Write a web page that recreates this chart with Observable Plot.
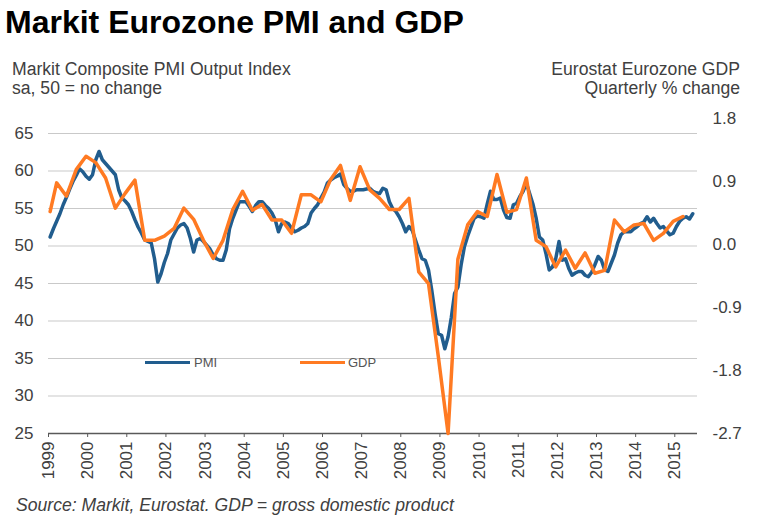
<!DOCTYPE html>
<html>
<head>
<meta charset="utf-8">
<script src="https://cdn.jsdelivr.net/npm/d3@7"></script>
<script src="https://cdn.jsdelivr.net/npm/@observablehq/plot@0.6"></script>
<style>
  html, body { margin: 0; padding: 0; background: #fff; }
  #wrap { position: relative; width: 760px; height: 528px; overflow: hidden;
          font-family: "Liberation Sans", Arial, sans-serif; color: #404040; }
  .title { position: absolute; left: 5px; top: 5.6px; font-size: 32px; line-height: 1;
           font-weight: bold; color: #000; white-space: nowrap; }
  .sub { position: absolute; top: 60.4px; font-size: 17.6px; line-height: 19px; white-space: nowrap; }
  .sub.left { left: 12px; }
  .sub.right { right: 20px; text-align: right; }
  .caption { position: absolute; left: 16px; top: 497px; font-size: 17.6px; line-height: 1;
             font-style: italic; white-space: nowrap; }
  #chart { position: absolute; left: 0; top: 100px; }
  .legline { position: absolute; height: 3.5px; }
  .legtext { position: absolute; font-size: 13px; line-height: 15px; color: #555; white-space: nowrap; }
</style>
</head>
<body>
<div id="wrap">
  <div class="title">Markit Eurozone PMI and GDP</div>
  <div class="sub left">Markit Composite PMI Output Index<br>sa, 50 = no change</div>
  <div class="sub right">Eurostat Eurozone GDP<br>Quarterly % change</div>
  <div id="chart"></div>
  <div class="legline" style="left:145px; top:360.5px; width:45px; background:#215D8E;"></div>
  <div class="legtext" style="left:194px; top:354.5px;">PMI</div>
  <div class="legline" style="left:300px; top:360.5px; width:45px; background:#FF7A22;"></div>
  <div class="legtext" style="left:348px; top:354.5px;">GDP</div>
  <div class="caption">Source: Markit, Eurostat. GDP = gross domestic product</div>
</div>
<script>
// ---- Data ----
const pmiStartYear = 1999;           // monthly series, Jan 1999 ... Jun 2015
const pmi1999 = [51.2, 52.3, 53.3, 54.3, 55.5, 56.5, 57.6, 58.6, 59.4, 60.3, 59.9, 59.3];
const pmi2000 = [58.9, 59.5, 61.5, 62.6, 61.5, 61.0, 60.5, 60.0, 59.5, 57.5, 56.4, 56.0];
const pmi2001 = [55.5, 54.6, 53.5, 52.5, 51.7, 50.8, 50.6, 50.4, 48.3, 45.2, 46.3, 47.8];
const pmi2002 = [49.0, 50.8, 51.6, 52.4, 52.8, 53.0, 52.4, 51.0, 49.2, 50.8, 51.0, 50.6];
const pmi2003 = [50.1, 49.6, 48.8, 48.3, 48.1, 48.1, 49.5, 52.3, 53.7, 54.8, 55.9, 55.9];
const pmi2004 = [55.9, 55.3, 54.6, 55.4, 55.9, 55.9, 55.4, 55.0, 54.4, 53.5, 51.9, 53.0];
const pmi2005 = [53.2, 53.0, 52.4, 51.9, 52.1, 52.4, 52.6, 53.0, 54.4, 55.0, 55.5, 56.4];
const pmi2006 = [57.2, 58.4, 58.8, 59.1, 59.3, 59.6, 58.2, 57.7, 57.3, 57.3, 57.5, 57.5];
const pmi2007 = [57.5, 57.6, 57.7, 57.3, 57.1, 57.0, 57.7, 57.5, 55.9, 55.0, 54.6, 53.9];
const pmi2008 = [53.0, 51.9, 52.6, 52.1, 50.8, 49.5, 48.3, 48.1, 46.8, 44.1, 41.0, 38.3];
const pmi2009 = [38.1, 36.3, 37.9, 40.5, 43.7, 44.5, 47.5, 49.9, 51.3, 52.5, 53.7, 54.0];
const pmi2010 = [53.9, 53.7, 55.6, 57.3, 56.2, 56.2, 56.4, 54.8, 53.8, 53.7, 55.5, 55.7];
const pmi2011 = [56.6, 57.3, 58.4, 57.0, 55.6, 53.7, 51.2, 50.8, 49.0, 46.8, 47.2, 48.3];
const pmi2012 = [50.6, 48.1, 48.3, 47.0, 46.1, 46.4, 46.6, 46.6, 46.1, 45.9, 46.5, 47.5];
const pmi2013 = [48.6, 48.1, 46.8, 46.6, 47.7, 48.8, 50.4, 51.5, 51.9, 51.9, 51.9, 52.3];
const pmi2014 = [52.6, 53.0, 53.2, 53.9, 53.2, 53.7, 53.0, 52.4, 52.6, 52.0, 51.5, 51.7];
const pmi2015 = [52.6, 53.3, 53.7, 53.9, 53.6, 54.3];

const gdpStart = 0.47;               // value at the start of the line (Jan 1999)
const gdpStartYear = 1999;           // quarterly series, Q1 1999 ... Q1 2015
const gdpQuarterly = [
  0.88, 0.69, 1.07, 1.26,   // 1999
  1.17, 0.95, 0.52, 0.73,   // 2000
  0.92, 0.06, 0.06, 0.12,   // 2001
  0.23, 0.52, 0.36, 0.06,   // 2002
  -0.20, 0.06, 0.50, 0.76,  // 2003
  0.49, 0.57, 0.35, 0.35,   // 2004
  0.16, 0.71, 0.71, 0.61,   // 2005
  0.93, 1.13, 0.63, 1.11,   // 2006
  0.78, 0.66, 0.50, 0.50,   // 2007
  0.66, -0.39, -0.56, -1.60,// 2008
  -2.70, -0.21, 0.28, 0.47, // 2009
  0.40, 1.00, 0.46, 0.50,   // 2010
  0.95, 0.06, -0.03, -0.32, // 2011
  -0.08, -0.34, -0.12, -0.41,// 2012
  -0.37, 0.35, 0.18, 0.28,  // 2013
  0.30, 0.06, 0.16, 0.33,   // 2014
  0.40                      // 2015
];

const yearTicks = [1999, 2000, 2001, 2002, 2003, 2004, 2005, 2006, 2007, 2008, 2009, 2010, 2011, 2012, 2013, 2014, 2015];
const pmiTicks = [25, 30, 35, 40, 45, 50, 55, 60, 65];
const gdpTicks = [-2.7, -1.8, -0.9, 0.0, 0.9, 1.8];

// ---- Build tables ----
const pmiYears = [pmi1999, pmi2000, pmi2001, pmi2002, pmi2003, pmi2004, pmi2005, pmi2006,
                  pmi2007, pmi2008, pmi2009, pmi2010, pmi2011, pmi2012, pmi2013, pmi2014, pmi2015];
const pmiData = [];
pmiYears.forEach((arr, yi) => arr.forEach((v, m) => {
  pmiData.push({ t: pmiStartYear + yi + (m + 0.5) / 12, v });
}));

// Secondary (right) axis mapped onto the PMI scale
const leftMin = 25, leftMax = 67, gdpMin = -2.7, gdpMax = 1.8;
const k = (leftMax - leftMin) / (gdpMax - gdpMin);
const toLeft = g => leftMin + (g - gdpMin) * k;
const fmtGdp = d => { const g = Math.round(((d - leftMin) / k + gdpMin) * 10) / 10; return (g === 0 ? 0 : g).toFixed(1); };

const gdpData = [{ t: gdpStartYear + 0.5 / 12, v: toLeft(gdpStart) }];
gdpQuarterly.forEach((g, i) => {
  const y = gdpStartYear + Math.floor(i / 4), q = i % 4;
  gdpData.push({ t: y + (3 * q + 2.5) / 12, v: toLeft(g) });
});

const blue = "#215D8E", orange = "#FF7A22";

const chart = Plot.plot({
  width: 760,
  height: 390,
  marginTop: 18,
  marginBottom: 57,
  marginLeft: 48,
  marginRight: 63,
  style: { fontFamily: "'Liberation Sans', Arial, sans-serif", fontSize: "17px", color: "#404040", background: "transparent" },
  x: { type: "linear", domain: [1999, 2015.58], label: null },
  y: { domain: [leftMin, leftMax], label: null },
  marks: [
    Plot.ruleY(pmiTicks.filter(d => d > leftMin), { stroke: "#c9c9c9", strokeWidth: 1 }),
    Plot.axisY(pmiTicks, { anchor: "left", tickSize: 0, tickPadding: 15, label: null, fontSize: 17 }),
    Plot.axisY(gdpTicks.map(toLeft), { anchor: "right", tickSize: 0, tickPadding: 15, label: null, fontSize: 17, tickFormat: fmtGdp }),
    Plot.axisX(yearTicks, { anchor: "bottom", tickSize: 4, tickPadding: 4, tickRotate: -90, label: null, fontSize: 17, stroke: "#595959", tickFormat: d => String(d) }),
    Plot.ruleY([leftMin], { stroke: "#595959", strokeWidth: 1.5 }),
    Plot.line(pmiData, { x: "t", y: "v", stroke: blue, strokeWidth: 3.5 }),
    Plot.line(gdpData, { x: "t", y: "v", stroke: orange, strokeWidth: 3.5 })
  ]
});
document.getElementById("chart").appendChild(chart);
</script>
</body>
</html>
